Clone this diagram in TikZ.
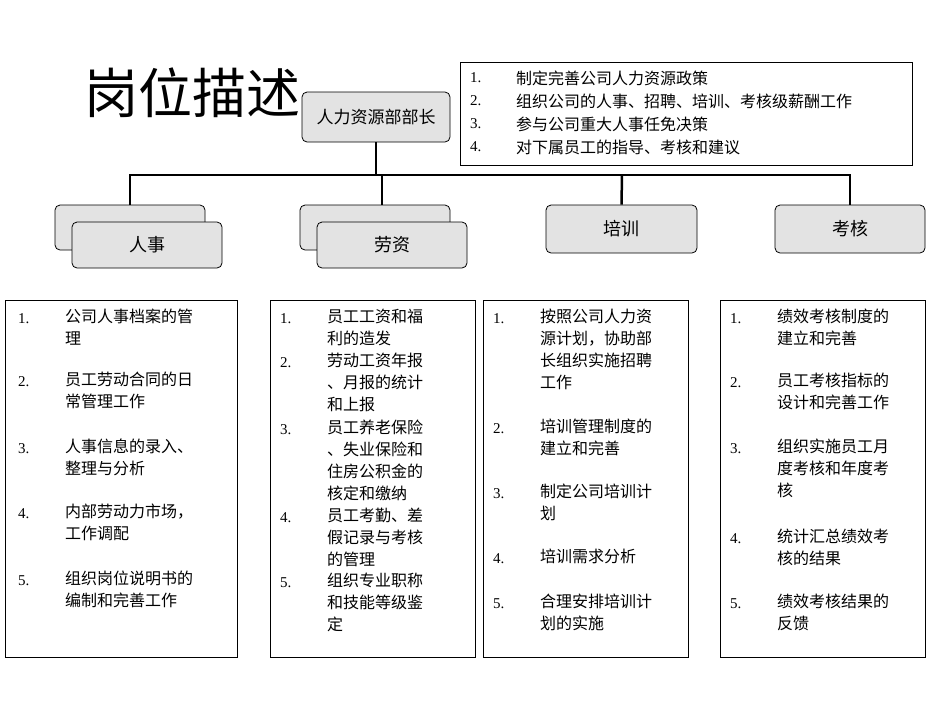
\documentclass[tikz,border=0pt]{standalone}
\usepackage{fontspec}
\setmainfont{Liberation Serif}
\newfontfamily\cjk{Noto Sans CJK SC}
\begin{document}
\begin{tikzpicture}[x=1pt,y=-1pt,font=\cjk\fontsize{16}{22}\selectfont,
  gbox/.style={draw=black,fill=gray!22,rounded corners=5pt,line width=0.8pt,font=\cjk\fontsize{18}{22}\selectfont},
  lbox/.style={draw=black,line width=0.8pt},
  item/.style={anchor=north west,inner sep=0pt,align=left},
  conn/.style={line width=2.5pt}]
\useasboundingbox (0,0) rectangle (950,713);
\node[anchor=west,inner sep=0pt,font=\cjk\fontsize{54}{58}\selectfont] (title) at (84,93) {岗位描述};
% top text box
\draw[lbox] (460,62) rectangle (912,165);
\foreach \y/\n/\t in {78/1./制定完善公司人力资源政策,101/2./组织公司的人事、招聘、培训、考核级薪酬工作,124/3./参与公司重大人事任免决策,147/4./对下属员工的指导、考核和建议}{
  \node[anchor=west,inner sep=0pt,font=\fontsize{15}{16}\selectfont] at (470,\y) {\n};
  \node[anchor=west,inner sep=0pt] at (516,\y) {\t};}
\node[gbox,minimum width=148,minimum height=50,font=\cjk\fontsize{17}{20}\selectfont] (head) at (376,117) {人力资源部部长};
% second level
\draw[gbox] (55,205) rectangle (205,250);
\node[gbox,minimum width=150,minimum height=46] (rs) at (147,245) {人事};
\draw[gbox] (300,205) rectangle (450,250);
\node[gbox,minimum width=150,minimum height=46] (lz) at (392,245) {劳资};
\node[gbox,minimum width=151,minimum height=48] (px) at (621.5,229) {培训};
\node[gbox,minimum width=150,minimum height=48] (kh) at (850,229) {考核};
\coordinate (bus) at (376,175);
\draw[conn] (head.south) -- (bus);
\draw[conn] (130,205) |- (bus) -| (850,205);
\draw[conn] (382,175) -- (382,205);
\draw[conn] (622,175) -- (px.north);
% bottom boxes
\draw[lbox] (5,300) rectangle (237,657);
\draw[lbox] (270,300) rectangle (475,657);
\draw[lbox] (483,300) rectangle (688,657);
\draw[lbox] (720,300) rectangle (925,657);
\newcommand\itm[4]{\node[item,font=\fontsize{15}{22}\selectfont] at (#1,#2+4) {#3};\node[item] at (#1+47,#2) {#4};}
\itm{18}{309}{1.}{公司人事档案的管\\理}
\itm{18}{372}{2.}{员工劳动合同的日\\常管理工作}
\itm{18}{439}{3.}{人事信息的录入、\\整理与分析}
\itm{18}{504}{4.}{内部劳动力市场，\\工作调配}
\itm{18}{571}{5.}{组织岗位说明书的\\编制和完善工作}
\itm{280}{309}{1.}{员工工资和福\\利的造发}
\itm{280}{353}{2.}{劳动工资年报\\、月报的统计\\和上报}
\itm{280}{420}{3.}{员工养老保险\\、失业保险和\\住房公积金的\\核定和缴纳}
\itm{280}{508}{4.}{员工考勤、差\\假记录与考核\\的管理}
\itm{280}{573}{5.}{组织专业职称\\和技能等级鉴\\定}
\itm{493}{309}{1.}{按照公司人力资\\源计划，协助部\\长组织实施招聘\\工作}
\itm{493}{419}{2.}{培训管理制度的\\建立和完善}
\itm{493}{484}{3.}{制定公司培训计\\划}
\itm{493}{549}{4.}{培训需求分析}
\itm{493}{594}{5.}{合理安排培训计\\划的实施}
\itm{730}{309}{1.}{绩效考核制度的\\建立和完善}
\itm{730}{373}{2.}{员工考核指标的\\设计和完善工作}
\itm{730}{439}{3.}{组织实施员工月\\度考核和年度考\\核}
\itm{730}{529}{4.}{统计汇总绩效考\\核的结果}
\itm{730}{594}{5.}{绩效考核结果的\\反馈}
\end{tikzpicture}
\end{document}
